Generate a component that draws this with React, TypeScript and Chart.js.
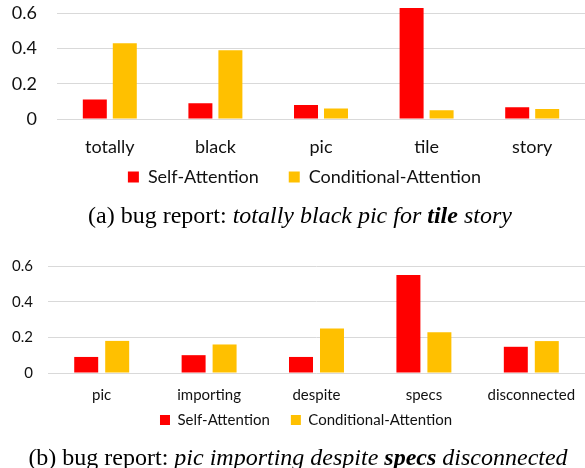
import React, { useEffect, useRef } from 'react';
import { Chart, registerables } from 'chart.js';

Chart.register(...registerables);

// ---- data ----
const seriesNames = ['Self-Attention', 'Conditional-Attention'];
const catsA = ['totally', 'black', 'pic', 'tile', 'story'];
const selfA = [0.11, 0.09, 0.08, 0.63, 0.066];
const condA = [0.43, 0.39, 0.06, 0.05, 0.057];
const catsB = ['pic', 'importing', 'despite', 'specs', 'disconnected'];
const selfB = [0.09, 0.1, 0.09, 0.55, 0.147];
const condB = [0.18, 0.16, 0.25, 0.228, 0.179];
const yTicks = [0, 0.2, 0.4, 0.6];

const RED = '#FF0000';
const GOLD = '#FFC000';
const GRID = '#D9D9D9';
const TEXT = '#111111';
const SANS = 'Lato';
const CLEAR = 'rgba(0,0,0,0)';

type Cfg = {
  top: number;
  height: number;
  padTop: number;
  yW: number;
  yGap: number;
  xH: number;
  xGap: number;
  font: number;
  box: number;
  legPad: number;
  legDx: number;
  legDy: number;
  cat: number;
  bar: number;
};

// moves the legend box after layout (the legend keeps its own drawing)
const legendShift = {
  id: 'legendShift',
  afterLayout(chart: any, _args: any, opts: any) {
    const l = chart.legend;
    if (!l) return;
    const dx = opts.dx || 0;
    const dy = opts.dy || 0;
    l.left += dx;
    l.right += dx;
    l.top += dy;
    l.bottom += dy;
  },
};

function BarPanel(props: { cats: string[]; selfVals: number[]; condVals: number[]; cfg: Cfg }) {
  const { cats, selfVals, condVals, cfg } = props;
  const ref = useRef<HTMLCanvasElement | null>(null);
  useEffect(() => {
    const font = { family: SANS, size: cfg.font };
    const chart = new Chart(ref.current as HTMLCanvasElement, {
      type: 'bar',
      data: {
        labels: cats,
        datasets: [
          {
            label: seriesNames[0],
            data: selfVals,
            backgroundColor: RED,
            categoryPercentage: cfg.cat,
            barPercentage: cfg.bar,
          },
          {
            label: seriesNames[1],
            data: condVals,
            backgroundColor: GOLD,
            categoryPercentage: cfg.cat,
            barPercentage: cfg.bar,
          },
        ],
      },
      plugins: [legendShift],
      options: {
        animation: false,
        responsive: false,
        maintainAspectRatio: false,
        layout: { padding: { top: cfg.padTop, left: 0, right: 0, bottom: 0 } },
        plugins: {
          legend: {
            position: 'bottom',
            labels: {
              boxWidth: cfg.box,
              boxHeight: cfg.box,
              padding: cfg.legPad,
              font,
              color: TEXT,
            },
          },
          tooltip: { enabled: false },
          legendShift: { dx: cfg.legDx, dy: cfg.legDy },
        } as any,
        scales: {
          x: {
            grid: { display: false, drawTicks: true, tickLength: cfg.xGap, tickColor: CLEAR },
            border: { display: false },
            ticks: { padding: 0, font, color: TEXT, maxRotation: 0, autoSkip: false },
            afterFit: (s: any) => {
              s.height = cfg.xH;
            },
          },
          y: {
            min: 0,
            max: 0.65,
            afterBuildTicks: (s: any) => {
              s.ticks = yTicks.map((v) => ({ value: v }));
            },
            grid: { color: GRID, lineWidth: 1, drawTicks: true, tickLength: cfg.yGap, tickColor: CLEAR },
            border: { display: false },
            ticks: { padding: 0, font, color: TEXT },
            afterFit: (s: any) => {
              s.width = cfg.yW;
            },
          },
        },
      },
    });
    return () => chart.destroy();
  }, []);
  return (
    <canvas
      ref={ref}
      width={585}
      height={cfg.height}
      style={{ position: 'absolute', left: 0, top: cfg.top, width: 585, height: cfg.height }}
    />
  );
}

const cfgA: Cfg = {
  top: -10,
  height: 226,
  padTop: 14.5,
  yW: 57,
  yGap: 20,
  xH: 39,
  xGap: 17.2,
  font: 18,
  box: 11,
  legPad: 30,
  legDx: 12,
  legDy: -20,
  cat: 0.568,
  bar: 0.8,
};

const cfgB: Cfg = {
  top: 240,
  height: 210,
  padTop: 17.1,
  yW: 48,
  yGap: 15,
  xH: 31,
  xGap: 13,
  font: 15,
  box: 10,
  legPad: 21,
  legDx: 13.5,
  legDy: -12.5,
  cat: 0.577,
  bar: 0.774,
};

const capStyle: React.CSSProperties = {
  position: 'absolute',
  left: 0,
  width: 600,
  textAlign: 'center',
  fontFamily: '"Liberation Serif", "Times New Roman", serif',
  whiteSpace: 'nowrap',
  color: '#000',
};

export default function App() {
  return (
    <div style={{ position: 'absolute', left: 0, top: 0, width: 585, height: 468, background: '#fff', overflow: 'hidden' }}>
      <BarPanel cats={catsA} selfVals={selfA} condVals={condA} cfg={cfgA} />
      <BarPanel cats={catsB} selfVals={selfB} condVals={condB} cfg={cfgB} />
      <div style={{ ...capStyle, top: 201, fontSize: 24, lineHeight: '28px' }}>
        (a) bug report: <i>totally black pic for <b>tile</b> story</i>
      </div>
      <div style={{ ...capStyle, left: -2, top: 443, fontSize: 24, lineHeight: '28px' }}>
        (b) bug report: <i>pic importing despite <b>specs</b> disconnected</i>
      </div>
    </div>
  );
}
